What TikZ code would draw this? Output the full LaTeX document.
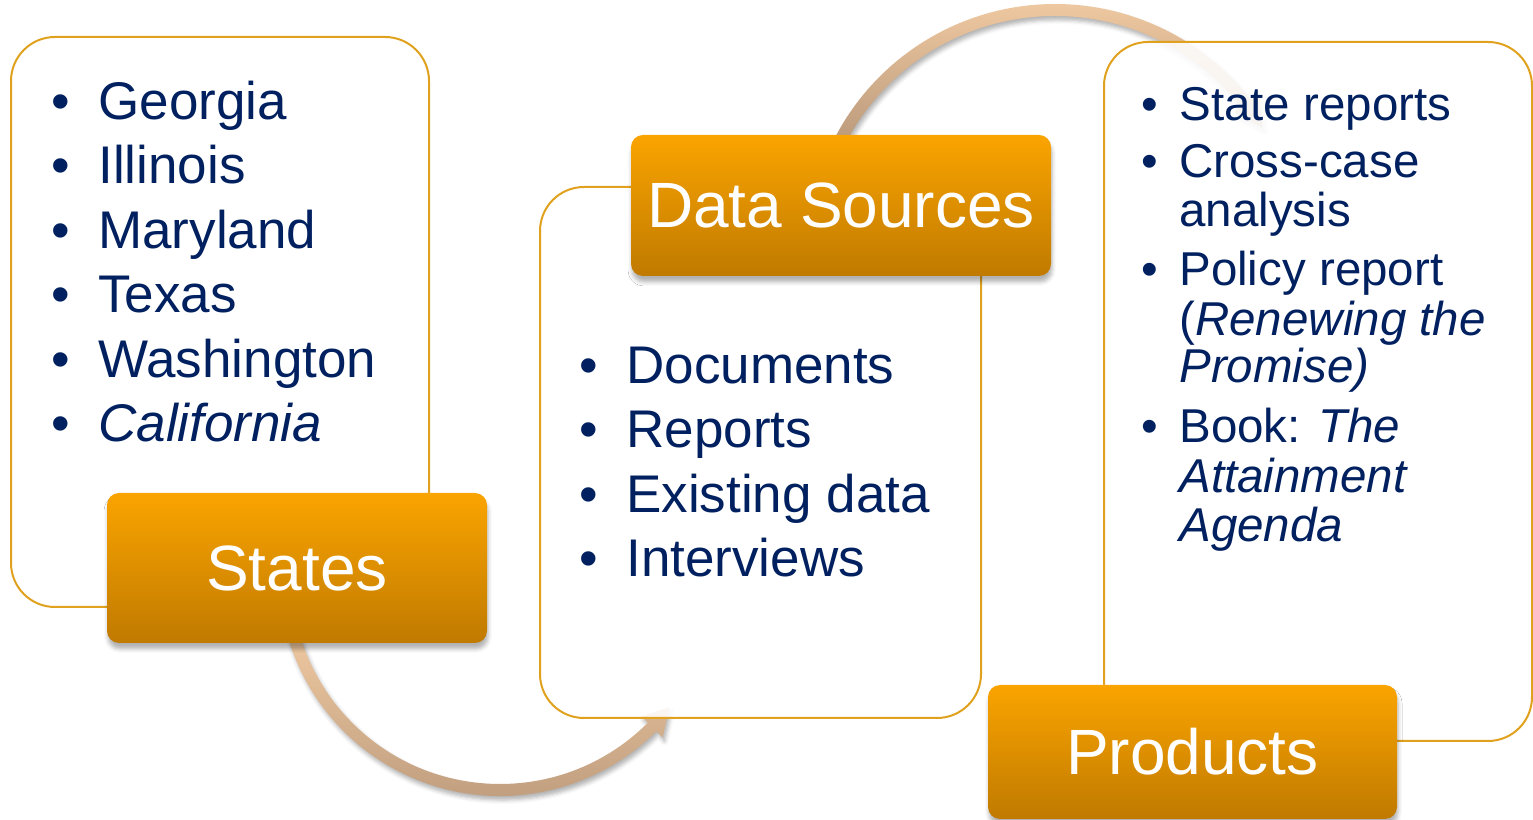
\documentclass[tikz,border=0pt]{standalone}
\usepackage{fontspec}
\setmainfont{Liberation Sans}
\usetikzlibrary{positioning,shadows.blur}

\definecolor{navy}{HTML}{002060}
\definecolor{gold}{HTML}{E0A21E}
\definecolor{orangetop}{HTML}{FAA400}
\definecolor{orangebot}{HTML}{C07A00}
\definecolor{peach}{HTML}{EFC9A1}
\definecolor{tan}{HTML}{BA997B}

\newcommand{\bul}[1][23.5pt]{\makebox[#1][l]{\textbullet}}

\begin{document}
\begin{tikzpicture}[x=0.5pt,y=0.5pt,
            listbox/.style={draw=gold, line width=1pt, fill=white, fill opacity=0.88,
                rounded corners=22pt, inner sep=0pt, outer sep=0pt},
            headbox/.style={top color=orangetop, bottom color=orangebot, rounded corners=6pt,
                inner sep=0pt, outer sep=0pt, text=white, font=\fontsize{32pt}{38pt}\selectfont,
                blur shadow={shadow xshift=0.5pt, shadow yshift=-3pt, shadow blur radius=2pt, shadow opacity=30}},
            bendarrow/.style={top color=peach, bottom color=tan,
                blur shadow={shadow xshift=1pt, shadow yshift=-2pt, shadow blur radius=2pt, shadow opacity=30}},
            entry/.style={anchor=base west, inner sep=0pt, text=navy, font=\fontsize{26.5pt}{30pt}\selectfont},
            smallentry/.style={entry, font=\fontsize{23.75pt}{28pt}\selectfont}]
            \useasboundingbox (0,0) rectangle (1533,820);
            % the two bent arrows
            \coordinate (lowc) at (500,245);
            \coordinate (highc) at (1055,568);
            \shade[bendarrow, shift={(lowc)}]
                (195:221) arc[start angle=195, end angle=315, radius=221] -- (315:230) -- (322:215)
                -- (315:200) -- (315:209) arc[start angle=315, end angle=195, radius=209] -- cycle;
            \shade[bendarrow, shift={(highc)}]
                (153:248) arc[start angle=153, end angle=38, radius=248] -- (38:257) -- (31:242)
                -- (38:227) -- (38:236) arc[start angle=38, end angle=153, radius=236] -- cycle;
            % boxes
            \node[listbox, minimum width=209pt, minimum height=285pt] (statelist) at (220,498) {};
            \node[listbox, minimum width=220.5pt, minimum height=265.5pt] (sourcelist) at (760.5,367.5) {};
            \node[listbox, minimum width=214pt, minimum height=349.5pt] (productlist) at (1318,428.5) {};
            \node[headbox, minimum width=190pt, minimum height=75pt] (states) at (297,252) {States};
            \node[headbox, minimum width=210pt, minimum height=70.5pt] (sources) at (841,614.5) {Data Sources};
            \node[headbox, minimum width=204.5pt, minimum height=67pt] (products) at (1192.5,68) {Products};
            % lists
            \foreach \y/\name in {700/Georgia, 636/Illinois, 571/Maryland, 507/Texas, 442/Washington, 378/\textit{California}}{%
                    \node[entry] (state\y) at (51,\y) {\bul\name};
                }
            \foreach \y/\name in {436/Documents, 372/Reports, 307/Existing data, 243/Interviews}{%
                    \node[entry] (source\y) at (579,\y) {\bul\name};
                }
            \foreach \y/\name in {699/State reports, 642/Cross-case, 534/Policy report, 377/{Book: \textit{The}}}{%
                    \node[smallentry] (product\y) at (1141,\y) {\bul[19pt]\name};
                }
            \foreach \y/\name in {593/analysis, 484/{(\textit{Renewing the}}, 437/\textit{Promise)}, 327/\textit{Attainment}, 278/\textit{Agenda}}{%
                    \node[smallentry] (more\y) at (1179,\y) {\name};
                }
        \end{tikzpicture}
\end{document}
